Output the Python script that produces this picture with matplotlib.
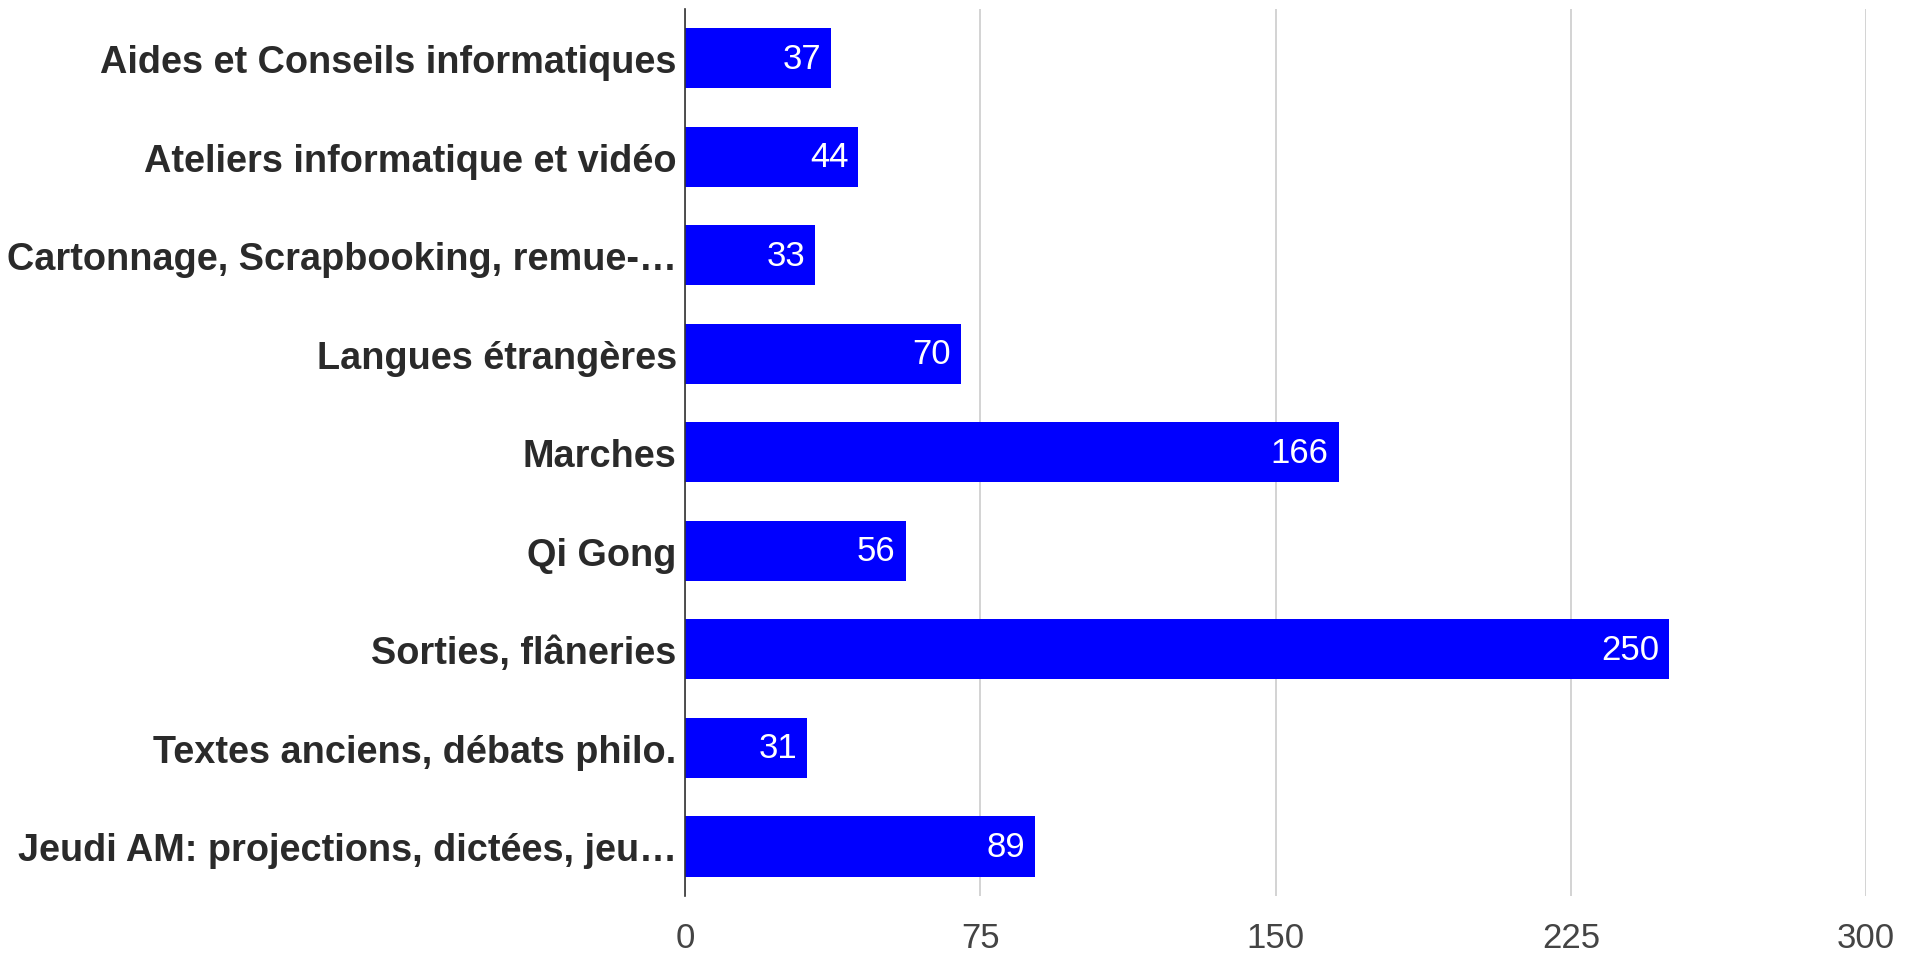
import matplotlib
matplotlib.use("Agg")
import matplotlib.pyplot as plt

categories = [
    "Aides et Conseils informatiques",
    "Ateliers informatique et vidéo",
    "Cartonnage, Scrapbooking, remue-…",
    "Langues étrangères",
    "Marches",
    "Qi Gong",
    "Sorties, flâneries",
    "Textes anciens, débats philo.",
    "Jeudi AM: projections, dictées, jeu…",
]
values = [37, 44, 33, 70, 166, 56, 250, 31, 89]
xticks = [0, 75, 150, 225, 300]

plt.rcParams['font.family'] = ['Liberation Sans', 'DejaVu Sans']

fig = plt.figure(figsize=(19.05, 9.54), dpi=100)
ax = fig.add_axes([0.3596, 0.060, 0.620, 0.9295])

y = list(range(len(categories)))
ax.barh(y, values, height=0.61, color="#0000ff", zorder=3)
for yi, v in zip(y, values):
    ax.text(v - 2.5, yi, str(v), color="white", fontsize=25,
            ha="right", va="center", zorder=4)

ax.set_xlim(0, 300)
ax.set_ylim(len(categories) - 0.5, -0.5)
ax.set_xticks(xticks)
ax.set_xticklabels([str(t) for t in xticks], fontsize=25, color="#444444")
ax.set_yticks(y)
ax.set_yticklabels(categories, fontsize=27.3, fontweight="bold", color="#2a2a2a")
ax.tick_params(axis="both", length=0)
ax.tick_params(axis="x", pad=18)
ax.tick_params(axis="y", pad=6)
ax.xaxis.grid(True, color="#cccccc", linewidth=1.2, zorder=0)
for s in ["top", "right", "bottom"]:
    ax.spines[s].set_visible(False)
ax.spines["left"].set_color("#333333")
ax.spines["left"].set_linewidth(1.2)
ax.spines["left"].set_zorder(5)

fig.savefig("out.png", dpi=100)
